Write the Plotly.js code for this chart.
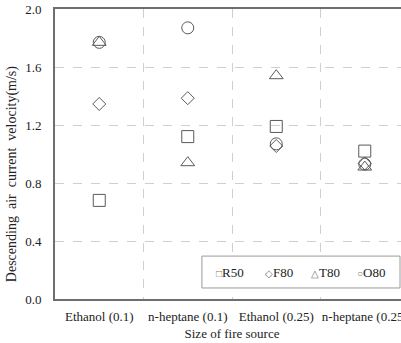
<!DOCTYPE html>
<html><head><meta charset="utf-8">
<script src="https://cdn.plot.ly/plotly-3.0.1.min.js"></script>
<style>html,body{margin:0;padding:0;overflow:hidden;background:#fff;width:401px;height:343px}#c{width:420px;height:343px}</style>
</head><body><div id="c"></div>
<script>
const categories = ["Ethanol (0.1)", "n-heptane (0.1)", "Ethanol (0.25)", "n-heptane (0.25)"];
const seriesNames = ["R50", "F80", "T80", "O80"];
const r50 = [0.68, 1.12, 1.19, 1.02];
const f80 = [1.345, 1.385, 1.055, 0.935];
const t80 = [1.77, 0.94, 1.54, 0.91];
const o80 = [1.77, 1.87, 1.07, 0.93];
const yTicks = [0, 0.4, 0.8, 1.2, 1.6, 2.0];
const yTitle = "Descending&nbsp; air&nbsp; current&nbsp; velocity(m/s)";
const xTitle = "Size of fire source";

const symbols = ["square-open", "diamond-open", "triangle-up-open", "circle-open"];
const sizes = [12, 10, 12, 12];
const legendGlyphs = ["□", "◇", "△", "○"];
const allSeries = [r50, f80, t80, o80];
const col = "#5a5a5a";
const font = "Liberation Serif";

const data = allSeries.map((vals, i) => ({
  type: "scatter", mode: "markers", name: seriesNames[i],
  x: categories, y: vals,
  marker: {symbol: symbols[i], size: sizes[i], color: col, line: {width: 1, color: col}},
  cliponaxis: false, showlegend: false
}));

const legX = [0.449, 0.588, 0.7175, 0.847];
const annotations = seriesNames.map((n, i) => ({
  xref: "paper", yref: "paper", x: legX[i], y: 0.093, xanchor: "left", yanchor: "middle",
  showarrow: false,
  text: '<span style="font-size:10px;color:#777">' + legendGlyphs[i] + '</span>' + n,
  font: {family: font, size: 13, color: "#222"}
}));
annotations.push({
  xref: "paper", yref: "paper", x: -0.121, y: 0.431, xanchor: "center", yanchor: "middle",
  textangle: -90, showarrow: false, text: yTitle,
  font: {family: font, size: 14, color: "#222"}
});

const layout = {
  width: 420, height: 343,
  margin: {l: 55, r: 11, t: 9, b: 44},
  paper_bgcolor: "#fff", plot_bgcolor: "#fff",
  font: {family: font, size: 12, color: "#222"},
  xaxis: {
    type: "category", categoryarray: categories, range: [-0.5, 3.5],
    tickson: "boundaries", ticks: "", showgrid: true, gridcolor: "#cfcfcf", griddash: "dash", gridwidth: 1,
    showline: true, linecolor: "#6e6e6e", linewidth: 2, mirror: true, tickangle: 0, automargin: false,
    tickfont: {family: font, size: 13, color: "#222"}, ticklabelstandoff: 4,
    title: {text: xTitle, font: {family: font, size: 13, color: "#222"}, standoff: 6}
  },
  yaxis: {
    range: [0, 2.0], tickvals: yTicks, tickformat: ".1f", ticks: "", automargin: false,
    showgrid: true, gridcolor: "#cfcfcf", griddash: "dash", gridwidth: 1, zeroline: false,
    showline: true, linecolor: "#6e6e6e", linewidth: 2, mirror: true,
    tickfont: {family: font, size: 13, color: "#222"}, ticklabelstandoff: 9
  },
  shapes: [{
    type: "rect", xref: "paper", yref: "paper", x0: 0.415, x1: 0.9746, y0: 0.038, y1: 0.148,
    fillcolor: "#fff", line: {color: "#9a9a9a", width: 1}, layer: "above"
  }],
  annotations: annotations,
  showlegend: false
};
Plotly.newPlot("c", data, layout, {displayModeBar: false, staticPlot: true});
</script></body></html>
